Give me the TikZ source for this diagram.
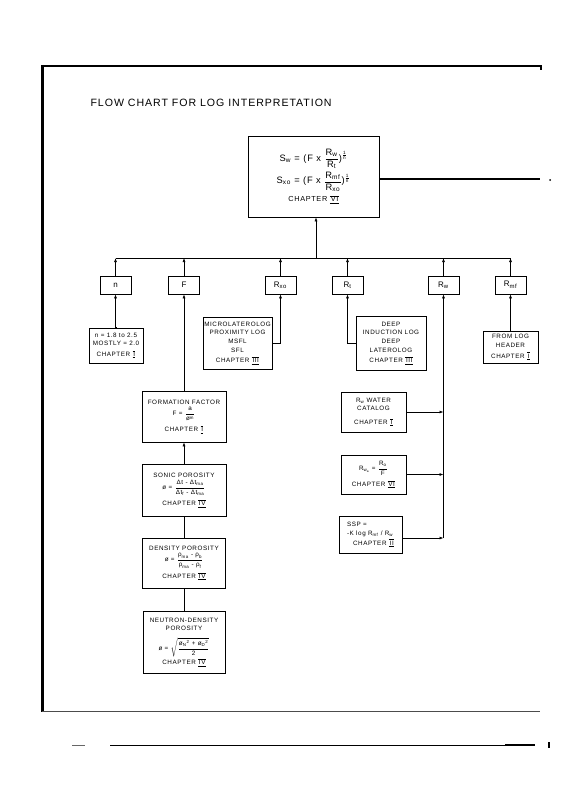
\documentclass[tikz,border=0pt]{standalone}
\usepackage{amsmath}
\usepackage{fontspec}
\setmainfont{Liberation Sans}[LetterSpace=9]
\usetikzlibrary{arrows.meta}
\newcommand\T[1]{\text{#1}}
\newcommand\rnum[1]{$\overline{\underline{\hbox{\kern0.8pt #1\kern0.2pt}}}$}
\tikzset{
  box/.style={draw, line width=0.7pt, inner sep=1pt, align=center, font=\fontsize{6.3}{8.6}\selectfont},
  hbox/.style={draw, line width=0.7pt, minimum width=31pt, minimum height=18pt, inner sep=0pt, font=\fontsize{8}{9}\selectfont},
  conn/.style={line width=0.6pt},
  arr/.style={line width=0.6pt, -{Latex[length=4pt,width=3pt]}},
}
\begin{document}
\begin{tikzpicture}[x=1pt,y=-1pt]
\useasboundingbox (0,0) rectangle (564,800);
% page frame / scan lines
\draw[line width=1.2pt] (42,66) -- (541,66) -- (541,70);
\draw[line width=3pt] (42,65) -- (42,712);
\draw[line width=0.6pt, black!70] (42,711) -- (540,711);
\draw[line width=0.5pt, black!60] (72,745) -- (85,745);
\draw[line width=0.8pt] (110,745) -- (535,745);
\draw[line width=2.5pt] (505,745) -- (535,745);
\draw[line width=2.5pt] (549,742) -- (549,748);
\fill (550,180) circle (1pt);
% title
\node[anchor=west, font=\fontsize{10.6}{12}\selectfont] (title) at (87,103) {FLOW CHART FOR LOG INTERPRETATION};
% top box
\node[box, minimum width=131pt, minimum height=81pt, font=\fontsize{9.3}{11}\selectfont] (top) at (313.5,176.5)
 {$\T{S}_\T{w}\T{ = (F x }\dfrac{\T{R}_\T{w}}{\T{R}_\T{t}}\T{)}^{\frac{\T{1}}{\T{n}}}$\\[2pt]
  $\T{S}_\T{xo}\T{ = (F x }\dfrac{\T{R}_\T{mf}}{\T{R}_\T{xo}}\T{)}^{\frac{\T{1}}{\T{n}}}$\\[3pt]
  {\fontsize{7.3}{9}\selectfont CHAPTER \rnum{VI}}};
\coordinate (topend) at (540,179);
\draw[line width=1.5pt] (top.east |- topend) -- (topend);
% header boxes
\node[hbox] (n) at (115.5,285) {n};
\node[hbox] (F) at (184,285) {F};
\node[hbox] (rxo) at (280.5,285) {R$_\T{xo}$};
\node[hbox] (rt) at (347.5,285) {R$_\T{t}$};
\node[hbox] (rw) at (443.5,285) {R$_\T{w}$};
\node[hbox] (rmf) at (510.5,285) {R$_\T{mf}$};
% bus
\coordinate (busL) at (115.5,258);
\coordinate (busR) at (510.5,258);
\coordinate (busM) at (316,258);
\draw[conn] (busL) -- (busR);
\draw[arr] (busM) -- (busM |- top.south);
\foreach \b in {n,F,rxo,rt,rw,rmf} \draw[arr] (\b.north) -- (\b.north |- busL);
% detail boxes
\node[box, minimum width=54pt, minimum height=35pt] (ndet) at (116,345.5)
 {n = 1.8 to 2.5\\MOSTLY = 2.0\\[2pt]CHAPTER \rnum{I}};
\node[box, minimum width=69pt, minimum height=52pt] (micro) at (237.5,343)
 {MICROLATEROLOG\\PROXIMITY LOG\\MSFL\\SFL\\[2pt]CHAPTER \rnum{III}};
\node[box, minimum width=70pt, minimum height=54pt] (deep) at (391,343)
 {DEEP\\INDUCTION LOG\\DEEP\\LATEROLOG\\[2pt]CHAPTER \rnum{III}};
\node[box, minimum width=55pt, minimum height=32pt] (hdr) at (510.5,347)
 {FROM LOG\\HEADER\\[2pt]CHAPTER \rnum{I}};
\draw[arr] (ndet.north) -- (ndet.north -| n.south) -- (n.south);
\draw[arr] (micro.east) -| (rxo.south);
\draw[arr] (deep.west) -| (rt.south);
\draw[arr] (hdr.north) -- (hdr.north -| rmf.south) -- (rmf.south);
% porosity column
\node[box, minimum width=84pt, minimum height=51pt] (ff) at (184,416.5)
 {FORMATION FACTOR\\[3pt]$\T{F = }\dfrac{\T{a}}{\T{ø}^\T{m}}$\\[4pt]CHAPTER \rnum{I}};
\node[box, minimum width=84pt, minimum height=52pt] (sonic) at (184,490)
 {SONIC POROSITY\\[2pt]$\T{ø = }\dfrac{\T{Δt - Δt}_\T{ma}}{\T{Δt}_\T{f}\T{ - Δt}_\T{ma}}$\\[3pt]CHAPTER \rnum{IV}};
\node[box, minimum width=83pt, minimum height=50pt] (dens) at (184,563)
 {DENSITY POROSITY\\[2pt]$\T{ø = }\dfrac{\T{ρ}_\T{ma}\T{ - ρ}_\T{b}}{\T{ρ}_\T{ma}\T{ - ρ}_\T{f}}$\\[3pt]CHAPTER \rnum{IV}};
\node[box, minimum width=82pt, minimum height=62pt, inner sep=0.5pt] (neut) at (184,642)
 {NEUTRON-DENSITY\\POROSITY\\[6pt]$\T{ø = }\sqrt{\dfrac{{\T{ø}_\T{N}}^{\T{2}}\T{ + }{\T{ø}_\T{D}}^{\T{2}}}{\T{2}}}$\\[1pt]CHAPTER \rnum{IV}};
\draw[arr] (ff.north) -- (F.south);
\draw[arr] (sonic.north) -- (ff.south);
\draw[conn] (sonic.south) -- (dens.north);
\draw[conn] (dens.south) -- (neut.north);
% Rw sources
\node[box, minimum width=65pt, minimum height=40pt] (cat) at (373.5,412)
 {R$_\T{w}$ WATER\\CATALOG\\[5pt]CHAPTER \rnum{I}};
\node[box, minimum width=65pt, minimum height=39pt] (rwa) at (373.5,474.5)
 {$\T{R}_{\T{w}_\T{a}}\T{ = }\dfrac{\T{R}_\T{o}}{\T{F}}$\\[4pt]CHAPTER \rnum{VI}};
\node[box, minimum width=63pt, minimum height=37pt, align=left] (ssp) at (370.5,534.5)
 {SSP =\\-K log R$_\T{mf}$ / R$_\T{w}$\\[1pt]\hspace*{6pt}CHAPTER \rnum{II}};
\coordinate (rwbot) at (443.5,538);
\draw[arr] (rwbot) -- (rw.south);
\draw[arr] (cat.east) -- (cat.east -| rwbot);
\draw[arr] (rwa.east) -- (rwa.east -| rwbot);
\draw[arr] (ssp.east |- rwbot) -- (rwbot);
\end{tikzpicture}
\end{document}
